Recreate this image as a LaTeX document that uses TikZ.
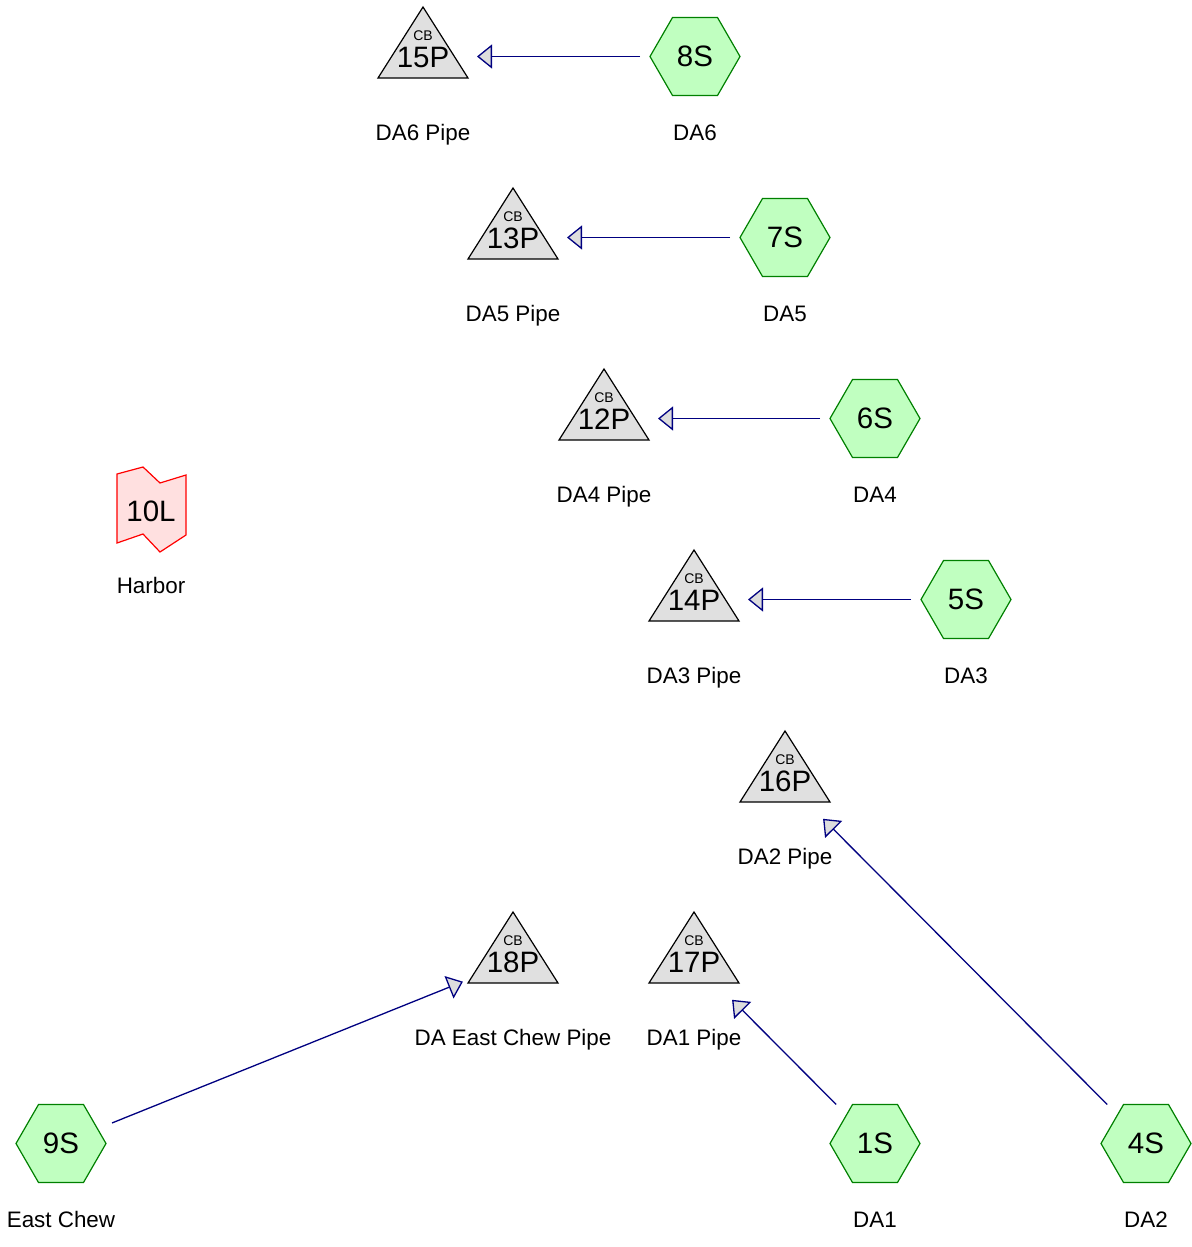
\documentclass[tikz,border=0pt]{standalone}
\usepackage{fontspec}
\setmainfont{Liberation Sans}
\usetikzlibrary{arrows.meta,shapes.geometric}
\definecolor{hexfill}{HTML}{C0FFC0}
\definecolor{hexline}{HTML}{008000}
\definecolor{trifill}{HTML}{E0E0E0}
\definecolor{conncol}{HTML}{000080}
\definecolor{tipfill}{HTML}{DDDDDD}
\definecolor{locfill}{HTML}{FFE0E0}
\definecolor{locline}{HTML}{FF0000}
\tikzset{
  hexnode/.style={regular polygon, regular polygon sides=6, minimum size=90pt, inner sep=0pt,
    fill=hexfill, draw=hexline, line width=1.2pt, font=\fontsize{29.5}{32}\selectfont},
  tribox/.style={rectangle, draw=none, minimum width=90pt, minimum height=71pt, inner sep=0pt, outer sep=0pt},
  trishape/.style={fill=trifill, draw=black, line width=1.2pt, line join=miter},
  cbtext/.style={inner sep=0pt, font=\fontsize{14}{16}\selectfont},
  bigtext/.style={inner sep=0pt, font=\fontsize{29.5}{32}\selectfont},
  labeltext/.style={inner sep=0pt, text height=16pt, text depth=5pt, font=\fontsize{22.4}{26}\selectfont},
  locshape/.style={fill=locfill, draw=locline, line width=1.2pt, line join=miter},
  conn/.style={draw=conncol, line width=1.3pt, shorten <=55pt, shorten >=54pt,
    -{Triangle[length=15pt,width=24pt,fill=tipfill]}},
}
\newcommand\PipeNode[5]{%
  \node[tribox] (#1box) at (#2,#3-14) {};
  \draw[trishape] (#1box.north) -- (#1box.south east) -- (#1box.south west) -- cycle;
  \node[cbtext] (#1cb) at (#2,#3-20.5) {CB};
  \node[bigtext] (#1txt) at (#2,#3+1) {#4};
  \coordinate (#1) at (#2,#3);
  \node[labeltext] (#1lab) at (#2,#3+78) {#5};
}
\newcommand\SiteNode[5]{%
  \node[hexnode] (#1) at (#2,#3) {#4};
  \node[labeltext] (#1lab) at (#2,#3+78) {#5};
}
\begin{document}
\begin{tikzpicture}[x=1pt,y=-1pt]
\useasboundingbox (0,0) rectangle (1191,1247);
% rows
\PipeNode{p15}{423}{56.5}{15P}{DA6 Pipe}
\SiteNode{s8}{695}{56.5}{8S}{DA6}
\PipeNode{p13}{513}{237.5}{13P}{DA5 Pipe}
\SiteNode{s7}{785}{237.5}{7S}{DA5}
\PipeNode{p12}{604}{418.5}{12P}{DA4 Pipe}
\SiteNode{s6}{875}{418.5}{6S}{DA4}
\PipeNode{p14}{694}{599.5}{14P}{DA3 Pipe}
\SiteNode{s5}{966}{599.5}{5S}{DA3}
\PipeNode{p16}{785}{780.5}{16P}{DA2 Pipe}
\PipeNode{p18}{513}{961.5}{18P}{DA East Chew Pipe}
\PipeNode{p17}{694}{961.5}{17P}{DA1 Pipe}
\SiteNode{s9}{61}{1143.5}{9S}{East Chew}
\SiteNode{s1}{875}{1143.5}{1S}{DA1}
\SiteNode{s4}{1146}{1143.5}{4S}{DA2}
% harbor
\draw[locshape] (117,474) -- (143,467) -- (160,483) -- (186,475) -- (186,535)
  -- (160,552) -- (143,534) -- (117,543) -- cycle;
\node[bigtext] (l10) at (151,511) {10L};
\node[labeltext] (l10lab) at (151,588) {Harbor};
% connectors
\draw[conn] (s8.center) -- (p15);
\draw[conn] (s7.center) -- (p13);
\draw[conn] (s6.center) -- (p12);
\draw[conn] (s5.center) -- (p14);
\draw[conn] (s4.center) -- (p16);
\draw[conn] (s9.center) -- (p18);
\draw[conn] (s1.center) -- (p17);
\end{tikzpicture}
\end{document}
